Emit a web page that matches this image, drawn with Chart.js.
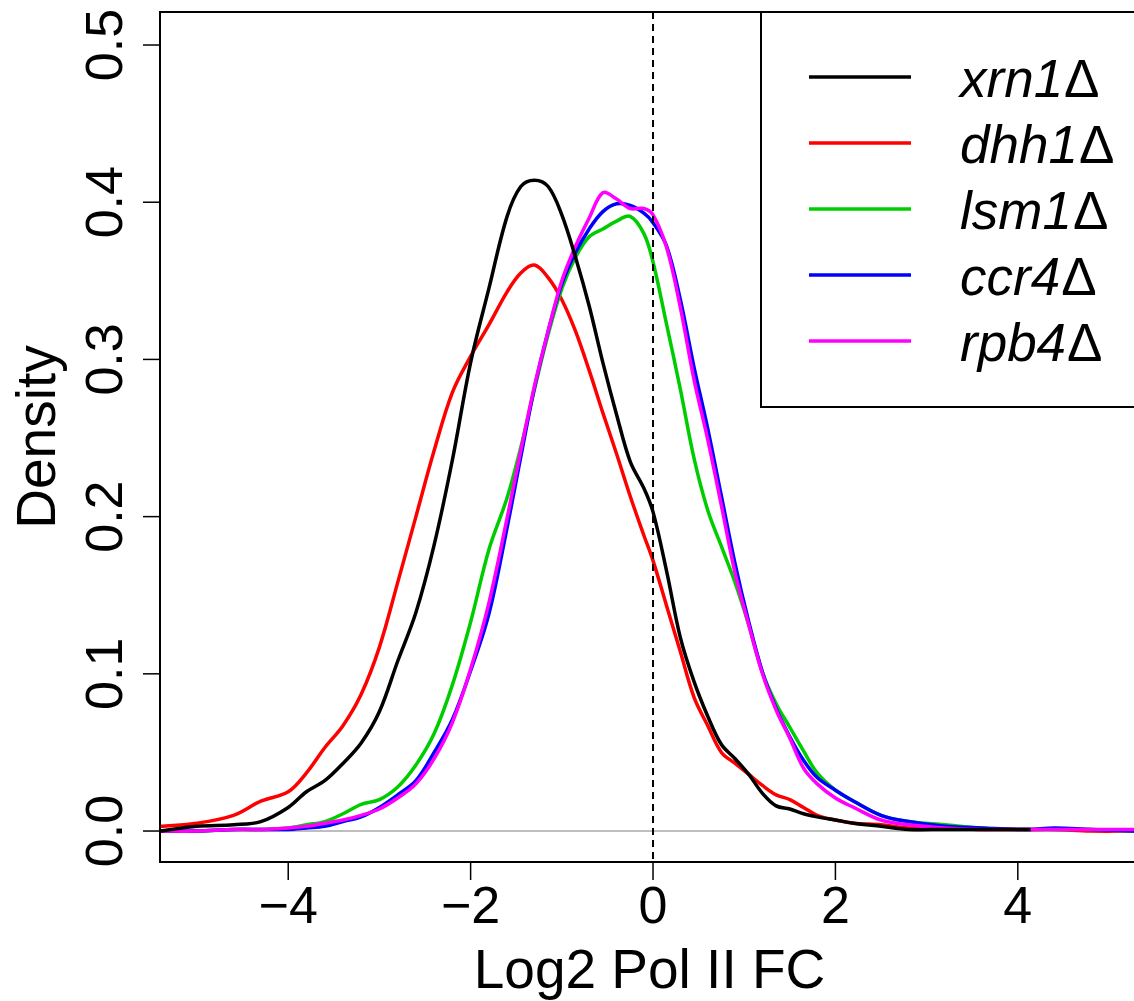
<!DOCTYPE html>
<html>
<head>
<meta charset="utf-8">
<script src="https://cdn.jsdelivr.net/npm/chart.js@4.4.0/dist/chart.umd.min.js"></script>
<style>
  body { margin: 0; background: #fff; }
  #wrap { width: 1134px; height: 1001px; }
</style>
</head>
<body>
<div id="wrap"><canvas id="myChart" width="1134" height="1001"></canvas></div>
<script>
// log2 fold change grid (x) shared by all strains
var xs = [-5.4, -5.0, -4.6, -4.3, -4.0, -3.8, -3.6, -3.4, -3.2, -3.0, -2.8, -2.6, -2.4, -2.2, -2.0,
    -1.8, -1.6, -1.45, -1.3, -1.15, -1.0, -0.85, -0.7, -0.55, -0.4, -0.25, -0.1, 0, 0.15, 0.3, 0.45,
    0.6, 0.75, 0.9, 1.05, 1.2, 1.35, 1.5, 1.65, 1.8, 2.0, 2.2, 2.5, 2.8, 3.2, 3.6, 4.0, 4.14, 4.4, 4.8, 5.3];

var xrn1 = [0.000, 0.003, 0.004, 0.006, 0.015, 0.025, 0.032, 0.043, 0.056, 0.076, 0.108, 0.139, 0.182, 0.236, 0.298,
    0.345, 0.391, 0.410, 0.414, 0.410, 0.392, 0.365, 0.334, 0.298, 0.265, 0.235, 0.218, 0.203, 0.165, 0.123, 0.095,
    0.073, 0.055, 0.046, 0.036, 0.024, 0.016, 0.014, 0.011, 0.009, 0.007, 0.005, 0.003, 0.001, 0.001, 0.001, 0.001, 0.001, null, null, null];

var dhh1 = [0.003, 0.005, 0.010, 0.019, 0.025, 0.037, 0.053, 0.067, 0.087, 0.117, 0.158, 0.200, 0.242, 0.279, 0.302,
    0.322, 0.343, 0.355, 0.360, 0.352, 0.338, 0.318, 0.293, 0.266, 0.240, 0.213, 0.188, 0.172, 0.143, 0.114, 0.085,
    0.067, 0.050, 0.043, 0.036, 0.029, 0.023, 0.020, 0.015, 0.010, 0.007, 0.005, 0.004, 0.002, 0.002, 0.001, 0.001, 0.001, 0.001, 0.000, 0.000];

var lsm1 = [0.000, 0.000, 0.001, 0.001, 0.002, 0.004, 0.006, 0.011, 0.017, 0.020, 0.028, 0.042, 0.062, 0.093, 0.133,
    0.179, 0.212, 0.244, 0.281, 0.316, 0.345, 0.365, 0.378, 0.383, 0.388, 0.391, 0.380, 0.362, 0.322, 0.281, 0.237,
    0.204, 0.181, 0.158, 0.131, 0.101, 0.081, 0.066, 0.051, 0.037, 0.026, 0.019, 0.010, 0.006, 0.004, 0.002, 0.001, 0.001, 0.001, 0.001, 0.000];

var ccr4 = [0.000, 0.000, 0.001, 0.001, 0.001, 0.002, 0.003, 0.006, 0.009, 0.015, 0.023, 0.032, 0.050, 0.071, 0.102,
    0.138, 0.193, 0.238, 0.282, 0.318, 0.348, 0.368, 0.383, 0.394, 0.399, 0.398, 0.393, 0.387, 0.372, 0.338, 0.295,
    0.256, 0.213, 0.170, 0.133, 0.101, 0.078, 0.060, 0.045, 0.034, 0.026, 0.019, 0.010, 0.006, 0.003, 0.002, 0.001, 0.001, 0.002, 0.001, 0.000];

var rpb4 = [0.000, 0.000, 0.001, 0.001, 0.002, 0.003, 0.005, 0.007, 0.010, 0.014, 0.021, 0.030, 0.046, 0.069, 0.103,
    0.145, 0.199, 0.242, 0.283, 0.318, 0.350, 0.372, 0.390, 0.406, 0.402, 0.396, 0.396, 0.392, 0.371, 0.333, 0.287,
    0.249, 0.207, 0.164, 0.131, 0.100, 0.077, 0.059, 0.040, 0.030, 0.021, 0.015, 0.007, 0.004, 0.002, 0.001, 0.001, 0.001, 0.001, 0.001, 0.001];

var labels = ['xrn1', 'dhh1', 'lsm1', 'ccr4', 'rpb4'];
var colors = ['#000000', '#ff0000', '#00cd00', '#0000ff', '#ff00ff'];
var series = [xrn1, dhh1, lsm1, ccr4, rpb4];
var drawOrder = [0, 4, 3, 2, 1]; // lower = on top

var xTicks = [-4, -2, 0, 2, 4];
var yTicks = [0.0, 0.1, 0.2, 0.3, 0.4, 0.5];

var tickFont = '52px "Liberation Sans", Arial, sans-serif';
var titleFont = '55px "Liberation Sans", Arial, sans-serif';
var legFont = 'italic 53px "Liberation Sans", Arial, sans-serif';
var legFontUp = '53px "Liberation Sans", Arial, sans-serif';

function pairs(y) {
    return xs.map(function(x, i) { return { x: x, y: y[i] }; });
}

var rAxes = {
    id: 'rAxes',
    beforeDatasetsDraw: function(chart) {
        var ctx = chart.ctx, a = chart.chartArea, ys = chart.scales.y;
        var y0 = ys.getPixelForValue(0);
        ctx.save();
        ctx.strokeStyle = '#bebebe';
        ctx.lineWidth = 2;
        ctx.beginPath();
        ctx.moveTo(a.left, y0);
        ctx.lineTo(a.right, y0);
        ctx.stroke();
        ctx.restore();
    },
    afterDatasetsDraw: function(chart) {
        var ctx = chart.ctx, a = chart.chartArea, xsc = chart.scales.x, ysc = chart.scales.y;
        ctx.save();

        // dashed line at 0
        var zx = xsc.getPixelForValue(0);
        ctx.strokeStyle = '#000';
        ctx.lineWidth = 2;
        ctx.setLineDash([7, 5]);
        ctx.beginPath();
        ctx.moveTo(zx, a.top);
        ctx.lineTo(zx, a.bottom);
        ctx.stroke();
        ctx.setLineDash([]);

        // box (right side runs off the page like the original)
        ctx.lineWidth = 2;
        ctx.strokeRect(a.left, a.top, 1139 - a.left, a.bottom - a.top);

        // y axis
        ctx.lineWidth = 1.5;
        ctx.fillStyle = '#000';
        ctx.font = tickFont;
        yTicks.forEach(function(v) {
            var py = ysc.getPixelForValue(v);
            ctx.beginPath();
            ctx.moveTo(a.left - 17, py);
            ctx.lineTo(a.left, py);
            ctx.stroke();
            ctx.save();
            ctx.translate(122, py);
            ctx.rotate(-Math.PI / 2);
            ctx.textAlign = 'center';
            ctx.textBaseline = 'alphabetic';
            ctx.fillText(v.toFixed(1), 0, 0);
            ctx.restore();
        });

        // x axis
        xTicks.forEach(function(v) {
            var px = xsc.getPixelForValue(v);
            ctx.beginPath();
            ctx.moveTo(px, a.bottom);
            ctx.lineTo(px, a.bottom + 18);
            ctx.stroke();
            ctx.textAlign = 'center';
            ctx.textBaseline = 'alphabetic';
            var txt = v < 0 ? '\u2212' + Math.abs(v) : String(v);
            ctx.fillText(txt, px, 923);
        });

        // titles
        ctx.font = titleFont;
        ctx.textAlign = 'center';
        ctx.fillText('Log2 Pol II FC', (a.left + 1139) / 2, 988);
        ctx.save();
        ctx.translate(55, (a.top + a.bottom) / 2);
        ctx.rotate(-Math.PI / 2);
        ctx.fillText('Density', 0, 0);
        ctx.restore();

        // legend
        ctx.lineWidth = 2;
        ctx.strokeRect(761, 12, 400, 395);
        labels.forEach(function(lab, i) {
            var ly = 77 + i * 66;
            ctx.strokeStyle = colors[i];
            ctx.lineWidth = 3.5;
            ctx.beginPath();
            ctx.moveTo(809, ly);
            ctx.lineTo(911, ly);
            ctx.stroke();
            ctx.textAlign = 'left';
            ctx.font = legFont;
            ctx.fillStyle = '#000';
            ctx.fillText(lab, 960, ly + 20);
            var w = ctx.measureText(lab).width;
            ctx.font = legFontUp;
            ctx.fillText('\u0394', 960 + w + 1, ly + 20);
        });
        ctx.restore();
    }
};

var myChart = new Chart(document.getElementById('myChart'), {
    type: 'line',
    data: {
        datasets: labels.map(function(lab, i) {
            return {
                label: lab + '\u0394',
                data: pairs(series[i]),
                borderColor: colors[i],
                backgroundColor: colors[i],
                borderWidth: 3.5,
                pointRadius: 0,
                tension: 0.35,
                spanGaps: false,
                fill: false,
                order: drawOrder[i]
            };
        })
    },
    options: {
        responsive: false,
        animation: false,
        devicePixelRatio: 1,
        layout: { padding: { left: 160, right: 0, top: 12, bottom: 139 } },
        plugins: {
            legend: { display: false },
            tooltip: { enabled: false }
        },
        scales: {
            x: { type: 'linear', display: false, min: -5.406, max: 5.274 },
            y: { type: 'linear', display: false, min: -0.0197, max: 0.521 }
        }
    },
    plugins: [rAxes]
});
</script>
</body>
</html>
